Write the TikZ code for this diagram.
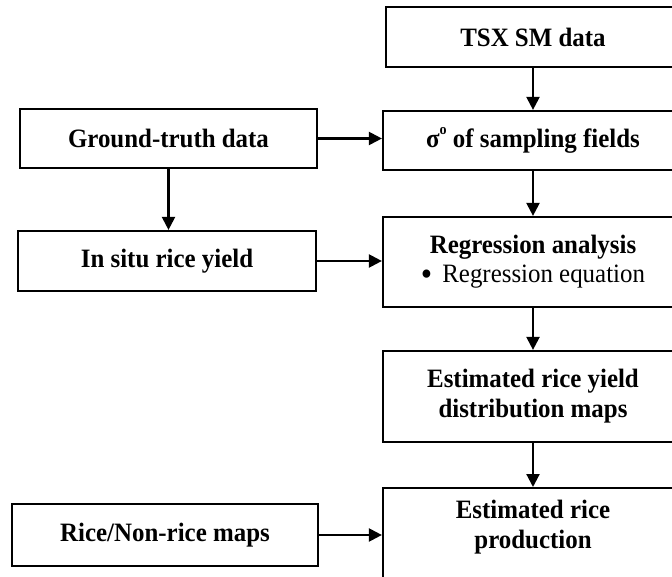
\documentclass[tikz,border=0pt]{standalone}
\usepackage{fontspec}
\setmainfont{Liberation Serif}[FakeStretch=0.94]
\usetikzlibrary{arrows.meta}
\begin{document}
\begin{tikzpicture}[x=1pt,y=-1pt,
  box/.style={draw=black, line width=2.2pt, rectangle, inner sep=0pt, align=center,
    font=\fontsize{26.5}{30}\selectfont\bfseries},
  txt/.style={inner sep=0pt, align=center, font=\fontsize{26.5}{30}\selectfont\bfseries},
  conn/.style={line width=2.2pt, -{Triangle[length=13pt,width=13pt]}}]
\useasboundingbox (0,0) rectangle (672,577);
\clip (0,0) rectangle (672,577);
\fill[white] (0,0) rectangle (672,577);
% right column
\node[box, minimum width=294, minimum height=60] (tsx) at (533,37) {TSX SM data};
\node[box, minimum width=300, minimum height=59] (sigma) at (533,140.5) {σ\raisebox{0.5em}{\fontsize{15}{15}\selectfont o} of sampling fields};
\node[box, minimum width=300, minimum height=90] (regr) at (533,262) {Regression analysis\\[-1pt]{\mdseries \raisebox{-0.1em}{\scalebox{1.3}{•}}\hspace{10pt}Regression equation}};
\node[box, minimum width=300, minimum height=91] (yield) at (533,396.5) {Estimated rice yield\\distribution maps};
\node[box, minimum width=300, minimum height=100, anchor=north] (prod) at (533,487) {};
\node[txt] (prodtxt) at (533,527.5) {Estimated rice\\production};
% left column
\node[box, minimum width=297, minimum height=59] (ground) at (168.5,138.5) {Ground-truth data};
\node[box, minimum width=298, minimum height=60] (insitu) at (167,261) {In situ rice yield};
\node[box, minimum width=306, minimum height=62] (rice) at (165,535) {Rice/Non-rice maps};
% connectors
\draw[conn] (tsx.south) -- (tsx.south |- sigma.north);
\draw[conn] (sigma.south) -- (regr.north);
\draw[conn] (regr.south) -- (yield.north);
\draw[conn] (yield.south) -- (prod.north);
\draw[conn] (ground.east) -- (ground.east -| sigma.west);
\draw[conn] (ground.south) -- (ground.south |- insitu.north);
\draw[conn] (insitu.east) -- (insitu.east -| regr.west);
\draw[conn] (rice.east) -- (rice.east -| prod.west);
\end{tikzpicture}
\end{document}
